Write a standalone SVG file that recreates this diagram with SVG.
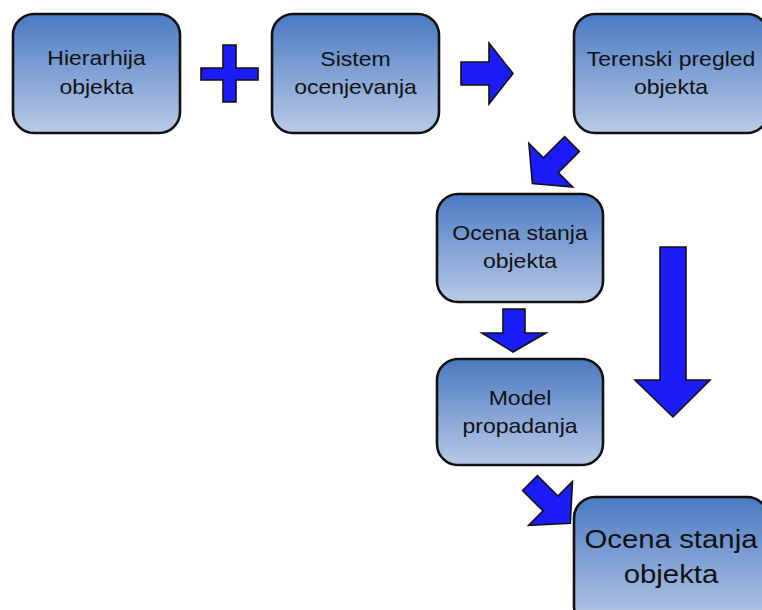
<svg xmlns="http://www.w3.org/2000/svg" width="762" height="610" viewBox="0 0 762 610">
  <defs>
    <linearGradient id="boxFill" x1="0" y1="0" x2="0" y2="1">
      <stop offset="0" stop-color="#4a7ac2"/>
      <stop offset="1" stop-color="#b9cae7"/>
    </linearGradient>
    <style>
      .box { fill: url(#boxFill); stroke: #111; stroke-width: 2.6; }
      .arrow { fill: #1c1cfa; stroke: #111; stroke-width: 1.6; stroke-linejoin: miter; }
      .t { font-family: "Liberation Sans", Arial, sans-serif; font-size: 20px; fill: #111; text-anchor: middle; }
      .tb { font-family: "Liberation Sans", Arial, sans-serif; font-size: 26px; fill: #111; text-anchor: middle; }
    </style>
  </defs>
  <rect width="762" height="610" fill="#fff"/>

  <g id="hierarhija">
    <rect class="box" x="13" y="14" width="167" height="119" rx="21"/>
    <text class="t" transform="translate(96.5 65) scale(1.15 1)">Hierarhija</text>
    <text class="t" transform="translate(96.5 94) scale(1.15 1)">objekta</text>
  </g>

  <g id="sistem">
    <rect class="box" x="272" y="14" width="167" height="119" rx="21"/>
    <text class="t" transform="translate(355.5 66) scale(1.15 1)">Sistem</text>
    <text class="t" transform="translate(355.5 94) scale(1.15 1)">ocenjevanja</text>
  </g>

  <g id="terenski">
    <rect class="box" x="574" y="14" width="194" height="119" rx="21"/>
    <text class="t" transform="translate(671 66) scale(1.15 1)">Terenski pregled</text>
    <text class="t" transform="translate(671 94) scale(1.15 1)">objekta</text>
  </g>

  <g id="ocena1">
    <rect class="box" x="437" y="194" width="166" height="108" rx="21"/>
    <text class="t" transform="translate(520 240) scale(1.15 1)">Ocena stanja</text>
    <text class="t" transform="translate(520 268) scale(1.15 1)">objekta</text>
  </g>

  <g id="model">
    <rect class="box" x="437" y="359" width="166" height="106" rx="21"/>
    <text class="t" transform="translate(520 405) scale(1.15 1)">Model</text>
    <text class="t" transform="translate(520 433) scale(1.15 1)">propadanja</text>
  </g>

  <g id="ocena2">
    <rect class="box" x="574" y="497" width="194" height="130" rx="21"/>
    <text class="tb" transform="translate(671 548) scale(1.13 1)">Ocena stanja</text>
    <text class="tb" transform="translate(671 583) scale(1.13 1)">objekta</text>
  </g>

  <g id="connectors">
    <!-- plus between the first two boxes -->
    <polygon class="arrow" points="223,45 236,45 236,68 258,68 258,80 236,80 236,102 223,102 223,80 201,80 201,68 223,68"/>
    <!-- right arrow -->
    <polygon class="arrow" points="461,62 489,62 489,43 513,73.5 489,104 489,85 461,85"/>
    <!-- diagonal arrow down-left -->
    <polygon class="arrow" transform="translate(572 144) rotate(135)" points="0,-10.5 30,-10.5 30,-31 56,0 30,31 30,10.5 0,10.5"/>
    <!-- small down arrow -->
    <polygon class="arrow" points="503,309 525,309 525,333 546,333 513,352 482,333 503,333"/>
    <!-- long down arrow -->
    <polygon class="arrow" points="660,247 686,247 686,380 710,380 673,417 635,380 660,380"/>
    <!-- diagonal arrow down-right -->
    <polygon class="arrow" transform="translate(530 483) rotate(45)" points="0,-10.5 29,-10.5 29,-31 57,0 29,31 29,10.5 0,10.5"/>
  </g>
</svg>
